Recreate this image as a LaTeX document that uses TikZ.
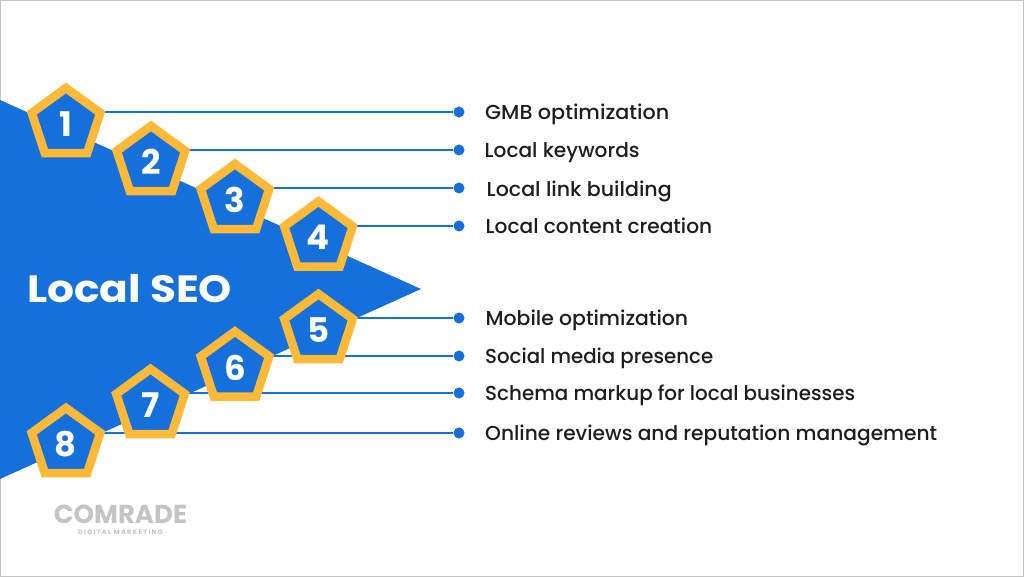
\documentclass[tikz,border=0pt]{standalone}
\usepackage{graphicx}
\usepackage{fontspec}
\setmainfont{Poppins}[UprightFont=* Medium,BoldFont=* Bold]
\usetikzlibrary{shapes.geometric,backgrounds}
\definecolor{seoblue}{HTML}{1570DC}
\definecolor{seoyellow}{HTML}{FFB938}
\definecolor{seogray}{HTML}{C4C4C4}
\definecolor{seotext}{HTML}{1E1E1E}
\newcommand{\fitw}[2]{\resizebox{#1pt}{\height}{#2}}
\tikzset{
  penta/.style={regular polygon,regular polygon sides=5,minimum size=72pt,inner sep=0pt,outer sep=0pt,
    draw=seoyellow,fill=seoblue,line width=8.6pt,miter limit=10,text=white,font=\bfseries\fontsize{34}{34}\selectfont},
  pin/.style={circle,fill=seoblue,minimum size=11pt,inner sep=0pt},
  item/.style={anchor=west,inner sep=0pt,text=seotext,font=\fontsize{20.2}{22}\selectfont},
  link/.style={draw=seoblue,line width=2pt}
}
\begin{document}
\begin{tikzpicture}[x=1pt,y=-1pt]
\useasboundingbox (0,0) rectangle (1024,577);
% numbered pentagons
\node[penta] (n1) at (66,124) {1};
\node[penta] (n2) at (151,162) {2};
\node[penta] (n3) at (235,200) {3};
\node[penta] (n4) at (318.5,237.5) {4};
\node[penta] (n5) at (318.5,330) {5};
\node[penta] (n6) at (235,367.5) {6};
\node[penta] (n7) at (150.5,405) {7};
\node[penta] (n8) at (66,444) {8};
% dots
\node[pin] (d1) at (459,112) {};
\node[pin] (d2) at (459,150) {};
\node[pin] (d3) at (459,188) {};
\node[pin] (d4) at (459,226) {};
\node[pin] (d5) at (459,318) {};
\node[pin] (d6) at (459,356) {};
\node[pin] (d7) at (459,393) {};
\node[pin] (d8) at (459,433) {};
% labels
\node[item] (t1) at (485,114) {\fitw{184}{GMB optimization}};
\node[item] (t2) at (484.5,153) {\fitw{155}{Local keywords}};
\node[item] (t3) at (486.5,191) {\fitw{185}{Local link building}};
\node[item] (t4) at (485.5,226) {\fitw{226.5}{Local content creation}};
\node[item] (t5) at (485.5,320.5) {\fitw{202.5}{Mobile optimization}};
\node[item] (t6) at (485,358) {\fitw{228}{Social media presence}};
\node[item] (t7) at (485,395.5) {\fitw{370}{Schema markup for local businesses}};
\node[item] (t8) at (485,435.5) {\fitw{452}{Online reviews and reputation management}};
% background: arrow shape and connectors
\begin{scope}[on background layer]
  \fill[white] (0,0) rectangle (1024,577);
  \draw[seogray,line width=1.5pt] (0,0) rectangle (1024,577);
  \fill[seoblue] (0,100) -- (421,289) -- (0,479) -- cycle;
  \foreach \i in {1,...,8}{
    \draw[link] (d\i) -- (d\i -| n\i);
  }
\end{scope}
\node[anchor=west,inner sep=0pt,text=white,font=\bfseries\fontsize{38}{40}\selectfont] (title) at (27,289) {\fitw{205}{Local SEO}};
\node[anchor=center,inner sep=0pt,text=seogray,font=\bfseries\fontsize{26}{28}\selectfont] (logo) at (120.5,514) {COMRADE};
\node[anchor=center,inner sep=0pt,text=seogray,font=\bfseries\fontsize{6.5}{7}\selectfont] (tag) at (120.5,532.5) {\addfontfeature{LetterSpace=20}DIGITAL MARKETING};
\end{tikzpicture}
\end{document}
